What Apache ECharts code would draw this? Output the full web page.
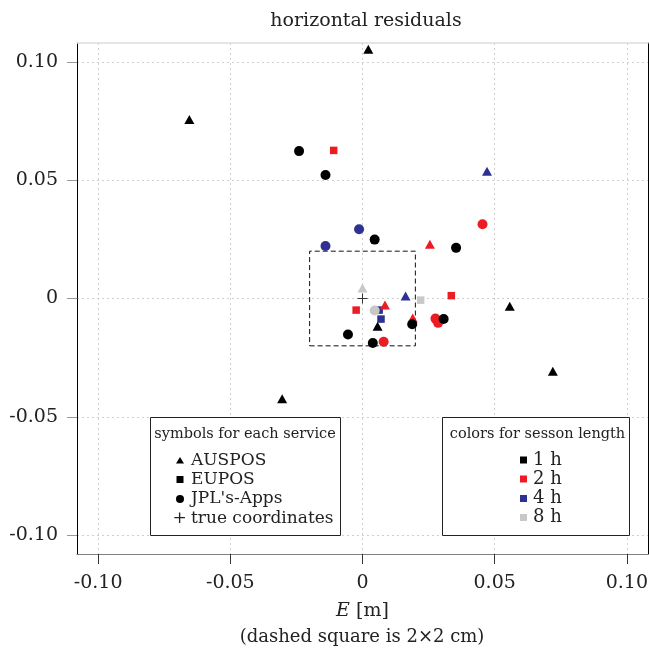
<!DOCTYPE html>
<html>
<head>
<meta charset="utf-8">
<script src="https://cdn.jsdelivr.net/npm/echarts@6/dist/echarts.min.js"></script>
<style>html,body{margin:0;padding:0;background:#fff;}#chart{width:649px;height:654px;}</style>
</head>
<body>
<div id="chart"></div>
<script>
// ---- data (E, N in metres; third value = session length in hours) ----
const tickValues = [-0.10, -0.05, 0, 0.05, 0.10];
const sessionHours = [1, 2, 4, 8];
const sessionLabels = ['1 h', '2 h', '4 h', '8 h'];
const serviceNames = ['AUSPOS', 'EUPOS', "JPL's-Apps", 'true coordinates'];

const auspos = [
  [0.0022, 0.1054, 1], [-0.0655, 0.0757, 1], [0.0557, -0.0033, 1], [0.0720, -0.0307, 1],
  [-0.0304, -0.0424, 1], [0.0057, -0.0117, 1],
  [0.0255, 0.0229, 2], [0.0085, -0.0028, 2], [0.0190, -0.0082, 2],
  [0.0471, 0.0538, 4], [0.0163, 0.0011, 4],
  [0.0000, 0.0044, 8]
];
const eupos = [
  [-0.0109, 0.0626, 2], [0.0336, 0.0012, 2], [-0.0024, -0.0049, 2],
  [0.0063, -0.0049, 4], [0.0070, -0.0087, 4],
  [0.0220, -0.0007, 8]
];
const jplApps = [
  [0.0454, 0.0314, 2], [0.0276, -0.0085, 2], [0.0286, -0.0103, 2], [0.0080, -0.0183, 2],
  [-0.0013, 0.0293, 4], [-0.0140, 0.0222, 4],
  [-0.0240, 0.0623, 1], [-0.0140, 0.0522, 1], [0.0046, 0.0249, 1], [0.0354, 0.0214, 1],
  [0.0188, -0.0109, 1], [0.0307, -0.0087, 1], [-0.0055, -0.0152, 1], [0.0039, -0.0188, 1],
  [0.0046, -0.0051, 8]
];
const trueCoords = [[0, 0]];
const dashedSquare = [[-0.02, -0.02], [0.02, -0.02], [0.02, 0.02], [-0.02, 0.02], [-0.02, -0.02]];

// ---- styles ----
const FONT = 'DejaVu Serif';
const sessionColors = {1: '#000000', 2: '#ec1c24', 4: '#2e3192', 8: '#c8c8c8'};
const PLUS = 'path://M-0.1,-1 L0.1,-1 L0.1,-0.1 L1,-0.1 L1,0.1 L0.1,0.1 L0.1,1 L-0.1,1 L-0.1,0.1 L-1,0.1 L-1,-0.1 L-0.1,-0.1 Z';
const AX_MIN = -0.108, AX_MAX = 0.108;

function fmt(v) { return Math.abs(v) < 1e-9 ? '0' : v.toFixed(2); }
function colorOf(p) { return sessionColors[p.value[2]]; }

const chart = echarts.init(document.getElementById('chart'), null, {renderer: 'canvas'});

const splitLine = {show: true, lineStyle: {color: '#cfcfcf', type: [2, 3], width: 1}};

const option = {
  animation: false,
  backgroundColor: '#ffffff',
  title: {
    text: 'horizontal residuals', left: 361, top: 7, textAlign: 'center',
    textStyle: {fontFamily: FONT, fontSize: 19, fontWeight: 'normal', color: '#222'}
  },
  grid: {left: 77, right: 1, top: 43, bottom: 100, containLabel: false, outerBoundsMode: 'none'},
  xAxis: [{
    type: 'value', min: AX_MIN, max: AX_MAX, splitNumber: 5, position: 'bottom',
    axisLine: {show: true, onZero: false, lineStyle: {color: '#808080', width: 1.2}},
    axisTick: {show: true, length: 10, inside: false, customValues: tickValues, lineStyle: {color: '#333'}},
    axisLabel: {customValues: tickValues, formatter: fmt, fontFamily: FONT, fontSize: 19, color: '#222', margin: 20, hideOverlap: false},
    splitLine: splitLine,
    name: '{i|E} [m]', nameLocation: 'middle', nameGap: 48,
    nameTextStyle: {fontFamily: FONT, fontSize: 19, color: '#222',
      rich: {i: {fontFamily: FONT, fontStyle: 'italic', fontSize: 19, color: '#222'}}}
  }, {
    type: 'value', min: AX_MIN, max: AX_MAX, position: 'top',
    axisLine: {show: true, onZero: false, lineStyle: {color: '#dddddd', width: 1.5}},
    axisTick: {show: false}, axisLabel: {show: false}, splitLine: {show: false}
  }],
  yAxis: [{
    type: 'value', min: AX_MIN, max: AX_MAX, splitNumber: 5, position: 'left',
    axisLine: {show: true, onZero: false, lineStyle: {color: '#000', width: 1}},
    axisTick: {show: true, length: 10, inside: false, customValues: tickValues, lineStyle: {color: '#999'}},
    axisLabel: {customValues: tickValues, formatter: fmt, fontFamily: FONT, fontSize: 19, color: '#222', margin: 19, hideOverlap: false},
    splitLine: splitLine,
    name: '{i|N} [m]', nameLocation: 'middle', nameGap: 42, nameRotate: 90,
    nameTextStyle: {fontFamily: FONT, fontSize: 19, color: '#222',
      rich: {i: {fontFamily: FONT, fontStyle: 'italic', fontSize: 19, color: '#222'}}}
  }, {
    type: 'value', min: AX_MIN, max: AX_MAX, position: 'right',
    axisLine: {show: true, onZero: false, lineStyle: {color: '#000', width: 1}},
    axisTick: {show: false}, axisLabel: {show: false}, splitLine: {show: false}
  }],
  series: [
    {
      type: 'line', name: 'square', data: dashedSquare, symbol: 'none', z: 2,
      lineStyle: {color: '#111', width: 1, type: [5, 3]}, silent: true
    },
    {
      type: 'scatter', name: 'true coordinates', data: trueCoords, symbol: PLUS, symbolSize: 10, z: 3,
      itemStyle: {color: '#333', opacity: 1}
    },
    {
      type: 'scatter', name: 'EUPOS', data: eupos, symbol: 'rect', symbolSize: 7.5, z: 4,
      itemStyle: {color: colorOf, opacity: 1}
    },
    {
      type: 'scatter', name: 'AUSPOS', data: auspos, symbol: 'triangle', symbolSize: [10, 9], z: 4,
      itemStyle: {color: colorOf, opacity: 1}
    },
    {
      type: 'scatter', name: "JPL's-Apps", data: jplApps, symbol: 'circle', symbolSize: 10, z: 5,
      itemStyle: {color: colorOf, opacity: 1}
    }
  ],
  graphic: []
};

// legend boxes (drawn as graphics)
const g = [];
const lx = 180, ly = [460.5, 479.5, 499, 518.5];
g.push({type: 'rect', shape: {x: 150.5, y: 417.5, width: 190, height: 118}, style: {fill: '#fff', stroke: '#222', lineWidth: 1}, z: 50});
g.push({type: 'text', x: 245, y: 434, style: {text: 'symbols for each service', font: '14.5px ' + FONT, fill: '#222', align: 'center', verticalAlign: 'middle'}, z: 51});
const symShapes = [
  {type: 'polygon', shape: {points: [[lx, ly[0] - 3.5], [lx + 4, ly[0] + 3], [lx - 4, ly[0] + 3]]}},
  {type: 'rect', shape: {x: lx - 3.5, y: ly[1] - 3.5, width: 7, height: 7}},
  {type: 'circle', shape: {cx: lx, cy: ly[2], r: 4}}
];
symShapes.forEach(s => { s.style = {fill: '#000'}; s.z = 51; g.push(s); });
g.push({type: 'text', x: lx - 0.5, y: ly[3], style: {text: '+', font: '17px ' + FONT, fill: '#222', align: 'center', verticalAlign: 'middle'}, z: 51});
serviceNames.forEach((n, i) => {
  g.push({type: 'text', x: 191, y: ly[i], style: {text: n, font: '17px ' + FONT, fill: '#222', align: 'left', verticalAlign: 'middle'}, z: 51});
});
g.push({type: 'rect', shape: {x: 442.5, y: 417.5, width: 187, height: 118}, style: {fill: '#fff', stroke: '#222', lineWidth: 1}, z: 50});
g.push({type: 'text', x: 537.5, y: 434, style: {text: 'colors for sesson length', font: '14.5px ' + FONT, fill: '#222', align: 'center', verticalAlign: 'middle'}, z: 51});
const ry = [460, 479, 498.5, 517.5];
sessionHours.forEach((h, i) => {
  g.push({type: 'rect', shape: {x: 520, y: ry[i] - 3.5, width: 7, height: 7}, style: {fill: sessionColors[h]}, z: 51});
  g.push({type: 'text', x: 533, y: ry[i], style: {text: sessionLabels[i], font: '18px ' + FONT, fill: '#222', align: 'left', verticalAlign: 'middle'}, z: 51});
});
g.push({type: 'text', x: 362, y: 637, style: {text: '(dashed square is 2\u00d72 cm)', font: '18px ' + FONT, fill: '#222', align: 'center', verticalAlign: 'middle'}, z: 51});
option.graphic = g;

chart.setOption(option);
</script>
</body>
</html>
